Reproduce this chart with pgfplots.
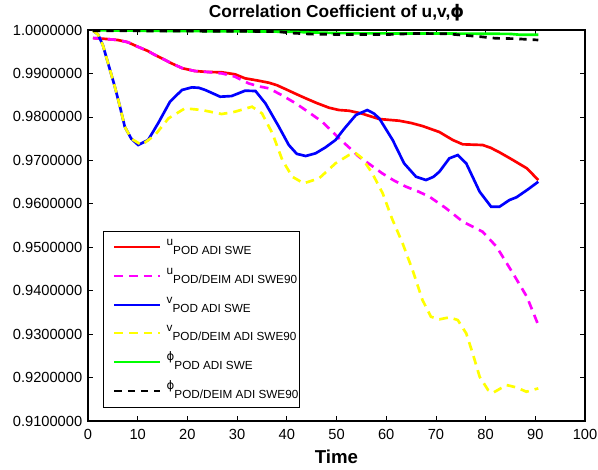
\documentclass[border=0pt]{standalone}
\usepackage{fontspec}
\setmainfont{Liberation Sans}
\newfontfamily\dejavu{DejaVu Sans}
\usepackage{pgfplots}
\pgfplotsset{compat=1.18}
\definecolor{mred}{rgb}{1,0,0}
\definecolor{mmag}{rgb}{1,0,1}
\definecolor{mblue}{rgb}{0,0,1}
\definecolor{myel}{rgb}{1,1,0}
\definecolor{mgreen}{rgb}{0,1,0}

\newcommand{\sub}[1]{\raisebox{-6.75pt}{#1}}
\newcommand{\ph}{{\dejavu ϕ}}

\begin{document}
\begin{tikzpicture}
\path[use as bounding box] (-66pt,-36pt) rectangle (382.5pt,315.75pt);
\begin{axis}[
  at={(0,0)}, anchor=south west,
  scale only axis, width=372.75pt, height=293.25pt,
  xmin=0, xmax=100, ymin=0.91, ymax=1.0,
  xtick={0,10,...,100},
  ytick={0.91,0.92,0.93,0.94,0.95,0.96,0.97,0.98,0.99,1.0},
  scaled y ticks=false,
  yticklabel style={/pgf/number format/fixed, /pgf/number format/fixed zerofill, /pgf/number format/precision=7, xshift=-0.8pt},
  /pgf/number format/assume math mode=true,
  ticklabel style={font=\fontsize{11}{13}\selectfont},
  xticklabel style={yshift=-2.3pt},
  tick align=inside,
  major tick length=4pt,
  axis line style={line width=0.9pt},
  every tick/.style={black, line width=0.6pt},
  title={\fontsize{13}{15}\selectfont\bfseries Correlation Coefficient of u,v,\ph},
  title style={at={(0.5,1)}, anchor=base, yshift=3.75pt, inner sep=0pt},
  xlabel={\fontsize{14}{16}\selectfont\bfseries Time},
  xlabel style={at={(0.5,0)}, anchor=base, yshift=-31.5pt, inner sep=0pt},
  legend cell align=left,
  legend image code/.code={\path (0pt,0pt); \draw[#1, line width=1.4pt] (7pt,0pt) -- (41pt,0pt);},
  legend style={at={(0.0296,0.035)}, anchor=south west, draw=black, line width=0.6pt,
    inner xsep=0.5pt, inner ysep=1.5pt, row sep=0pt, column sep=4.5pt,
    font=\fontsize{8.8}{10}\selectfont,
    nodes={inner sep=0pt, text height=9.65pt, text depth=11.85pt}},
  every axis plot/.append style={line width=2pt},
]
\addplot[mred] coordinates {(1,0.99815)(3,0.99800)(6,0.99770)(8,0.99720)(10,0.99616)(12,0.99520)(13.5,0.99424)(15,0.9934)(16.8,0.99233)(19,0.99120)(21.5,0.99056)(24,0.99035)(27,0.99026)(29.6,0.98980)(31.6,0.98888)(34,0.98840)(36.4,0.98787)(38,0.98730)(39.7,0.98642)(42,0.98520)(43.8,0.98428)(46,0.98320)(48.5,0.98211)(50.5,0.98158)(52.5,0.98142)(55,0.98080)(58.6,0.97951)(62.6,0.97912)(65,0.97860)(67.3,0.97790)(70.7,0.97652)(73.4,0.97468)(75.4,0.97369)(79.4,0.97353)(81,0.97290)(82.8,0.97184)(85.5,0.97007)(88.3,0.96816)(90.6,0.96547)};
\addlegendentry{u\sub{POD ADI SWE}}
\addplot[mmag, dash pattern=on 6.5pt off 4.5pt] coordinates {(1,0.99815)(3,0.99800)(6,0.99770)(8,0.99720)(10,0.99616)(12,0.99520)(13.5,0.99424)(15,0.9934)(16.8,0.99233)(19,0.99120)(21.5,0.99056)(24,0.99035)(27,0.99000)(29.6,0.98925)(32.3,0.98772)(34.5,0.98700)(36.4,0.98657)(39,0.98500)(41.8,0.98312)(44.5,0.98100)(47.1,0.97889)(49,0.97680)(50.5,0.97506)(52.5,0.97300)(54.5,0.97084)(56.8,0.96900)(59.2,0.96701)(61.5,0.96540)(64,0.96393)(66.5,0.96280)(68.7,0.96163)(72,0.95900)(75.4,0.95590)(79.4,0.95357)(82.2,0.95012)(85.5,0.94399)(88.3,0.93861)(90.6,0.93209)};
\addlegendentry{u\sub{POD/DEIM ADI SWE90}}
\addplot[mblue] coordinates {(1,0.99985)(2,0.99900)(3,0.99650)(4,0.99250)(5.4,0.98695)(6.4,0.98250)(7.4,0.97774)(8.7,0.97500)(10.1,0.97353)(12.1,0.97468)(14.1,0.97852)(16.5,0.98350)(18.9,0.98619)(20.9,0.98680)(22.3,0.98670)(23.6,0.98619)(26.6,0.98465)(28.9,0.98480)(31.6,0.98603)(33.7,0.98596)(35.7,0.98312)(38.4,0.97774)(40.4,0.97353)(42,0.97150)(43.8,0.97100)(45.8,0.97162)(47.8,0.97300)(49.8,0.97468)(51.5,0.97720)(53.9,0.98043)(56.2,0.98158)(57.5,0.98080)(58.6,0.97967)(61.3,0.97468)(63.6,0.96931)(66,0.96623)(68,0.96547)(69.5,0.96620)(70.7,0.96738)(72.7,0.97046)(74.4,0.97122)(76.1,0.96931)(78.8,0.96278)(81.1,0.95933)(82.8,0.95933)(84.8,0.96087)(86.2,0.96149)(88.5,0.96330)(90.6,0.96508)};
\addlegendentry{v\sub{POD ADI SWE}}
\addplot[myel, dash pattern=on 6.5pt off 4.5pt] coordinates {(1,0.99985)(2,0.99900)(3,0.99650)(4,0.99250)(5.4,0.98695)(6.4,0.98250)(7.4,0.97774)(8.7,0.97500)(10.8,0.97353)(13.5,0.97583)(16.2,0.97967)(19.5,0.98197)(22.9,0.98158)(26.9,0.98066)(29.6,0.98120)(33,0.98235)(35,0.98082)(37.1,0.97622)(39.1,0.97007)(41.1,0.96623)(43.4,0.96471)(46.5,0.96586)(49.8,0.96931)(52.5,0.97122)(53.9,0.97162)(55.2,0.97046)(57.2,0.96701)(59.3,0.96240)(61.2,0.95650)(63.3,0.95090)(65.3,0.94475)(67.3,0.93785)(69,0.93400)(70.7,0.93340)(72.7,0.93386)(74.4,0.93324)(76.1,0.93018)(77.4,0.92557)(78.8,0.92019)(80.5,0.91713)(81.5,0.91651)(84.2,0.91828)(86.2,0.91774)(88.2,0.91674)(90.6,0.91751)};
\addlegendentry{v\sub{POD/DEIM ADI SWE90}}
\addplot[mgreen] coordinates {(1,0.99995)(10,0.99985)(20,0.99975)(30,0.99970)(40,0.99960)(45,0.99945)(50,0.99930)(55,0.99923)(70,0.99920)(80,0.99915)(85,0.99910)(87,0.99890)(90.6,0.99890)};
\addlegendentry{\ph\sub{POD ADI SWE}}
\addplot[black, dash pattern=on 5.5pt off 4.5pt] coordinates {(1,0.99985)(10,0.99980)(20,0.99975)(30,0.99970)(38,0.99965)(41,0.99930)(45,0.99905)(52,0.99895)(60,0.99895)(66,0.99920)(72,0.99915)(75,0.99885)(78.6,0.99850)(82,0.99810)(86,0.99800)(90.6,0.99770)};
\addlegendentry{\ph\sub{POD/DEIM ADI SWE90}}
\end{axis}
\end{tikzpicture}
\end{document}
